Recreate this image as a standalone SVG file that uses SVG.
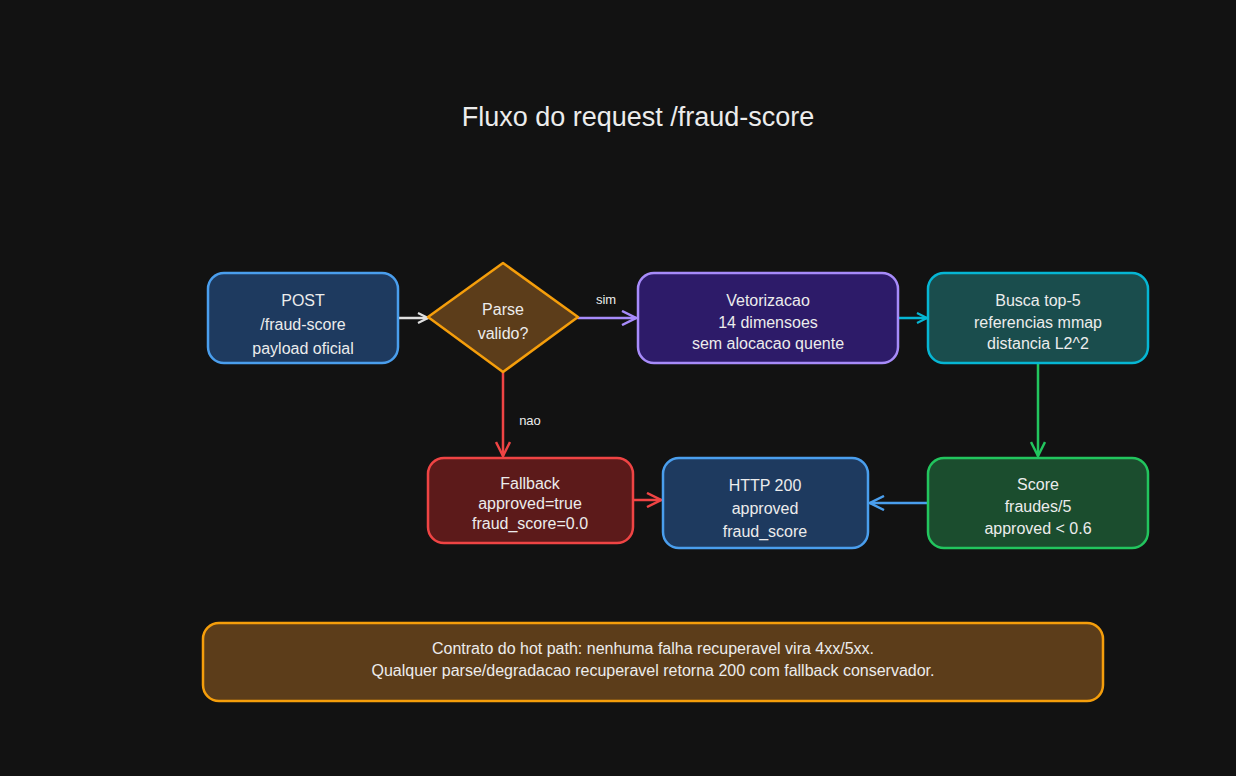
<svg xmlns="http://www.w3.org/2000/svg" width="1236" height="776" viewBox="0 0 1236 776">
<style>
text{font-family:"Liberation Sans",Arial,sans-serif;fill:#ececec;text-anchor:middle}
.t{font-size:16px}
.n{stroke-width:2.5}
.c{fill:none;stroke-width:2.5;stroke-linecap:round}
.l{font-size:13px}
</style>
<defs>
<marker id="aw" viewBox="0 0 12 12" refX="11" refY="6" markerWidth="12" markerHeight="12" markerUnits="userSpaceOnUse" orient="auto"><path d="M1 1L11 6L1 11" fill="none" stroke="#e0e0e0" stroke-width="2.2"/></marker>
<marker id="ap" viewBox="0 0 16 16" refX="15" refY="8" markerWidth="16" markerHeight="16" markerUnits="userSpaceOnUse" orient="auto"><path d="M1 1L15 8L1 15" fill="none" stroke="#a78bfa" stroke-width="2.5"/></marker>
<marker id="ac" viewBox="0 0 12 12" refX="11" refY="6" markerWidth="12" markerHeight="12" markerUnits="userSpaceOnUse" orient="auto"><path d="M1 1L11 6L1 11" fill="none" stroke="#06b6d4" stroke-width="2.2"/></marker>
<marker id="ag" viewBox="0 0 16 16" refX="15" refY="8" markerWidth="16" markerHeight="16" markerUnits="userSpaceOnUse" orient="auto"><path d="M1 1L15 8L1 15" fill="none" stroke="#22c55e" stroke-width="2.5"/></marker>
<marker id="ab" viewBox="0 0 16 16" refX="15" refY="8" markerWidth="16" markerHeight="16" markerUnits="userSpaceOnUse" orient="auto"><path d="M1 1L15 8L1 15" fill="none" stroke="#4a9eed" stroke-width="2.5"/></marker>
<marker id="ar" viewBox="0 0 16 16" refX="15" refY="8" markerWidth="16" markerHeight="16" markerUnits="userSpaceOnUse" orient="auto"><path d="M1 1L15 8L1 15" fill="none" stroke="#ef4444" stroke-width="2.5"/></marker>
</defs>
<rect width="1236" height="776" fill="#121212"/>
<text x="638" y="126" font-size="27">Fluxo do request /fraud-score</text>
<g id="connectors">
<path class="c" d="M398 318H428" stroke="#e0e0e0" marker-end="url(#aw)"/>
<path class="c" d="M578 318H636" stroke="#a78bfa" marker-end="url(#ap)"/>
<text class="l" x="606" y="304">sim</text>
<path class="c" d="M898 318H927" stroke="#06b6d4" marker-end="url(#ac)"/>
<path class="c" d="M1038 363V456" stroke="#22c55e" marker-end="url(#ag)"/>
<path class="c" d="M928 503H870" stroke="#4a9eed" marker-end="url(#ab)"/>
<path class="c" d="M503 372V456" stroke="#ef4444" marker-end="url(#ar)"/>
<text class="l" x="530" y="425">nao</text>
<path class="c" d="M633 500H661" stroke="#ef4444" marker-end="url(#ar)"/>
</g>
<g id="post"><rect class="n" x="208" y="273" width="190" height="90" rx="16" fill="#1e3a5f" stroke="#4a9eed"/>
<text class="t" x="303" y="306">POST</text><text class="t" x="303" y="330">/fraud-score</text><text class="t" x="303" y="354">payload oficial</text></g>
<g id="parse"><path class="n" d="M503 263L578 317L503 372L428 317Z" fill="#5c3d1a" stroke="#f59e0b" stroke-linejoin="round"/>
<text class="t" x="503" y="315" font-size="17">Parse</text><text class="t" x="503" y="339" font-size="17">valido?</text></g>
<g id="vet"><rect class="n" x="638" y="273" width="260" height="90" rx="16" fill="#2d1b69" stroke="#a78bfa"/>
<text class="t" x="768" y="306">Vetorizacao</text><text class="t" x="768" y="328">14 dimensoes</text><text class="t" x="768" y="349">sem alocacao quente</text></g>
<g id="busca"><rect class="n" x="928" y="273" width="220" height="90" rx="16" fill="#1a4d4d" stroke="#06b6d4"/>
<text class="t" x="1038" y="306">Busca top-5</text><text class="t" x="1038" y="328">referencias mmap</text><text class="t" x="1038" y="349">distancia L2^2</text></g>
<g id="score"><rect class="n" x="928" y="458" width="220" height="90" rx="16" fill="#1b4d2e" stroke="#22c55e"/>
<text class="t" x="1038" y="490">Score</text><text class="t" x="1038" y="512">fraudes/5</text><text class="t" x="1038" y="534">approved &lt; 0.6</text></g>
<g id="http"><rect class="n" x="663" y="458" width="205" height="90" rx="16" fill="#1e3a5f" stroke="#4a9eed"/>
<text class="t" x="765" y="491" font-size="17">HTTP 200</text><text class="t" x="765" y="514" font-size="17">approved</text><text class="t" x="765" y="537" font-size="17">fraud_score</text></g>
<g id="fallback"><rect class="n" x="428" y="458" width="205" height="85" rx="16" fill="#5c1a1a" stroke="#ef4444"/>
<text class="t" x="530" y="489">Fallback</text><text class="t" x="530" y="509">approved=true</text><text class="t" x="530" y="529">fraud_score=0.0</text></g>
<g id="contrato"><rect class="n" x="203" y="623" width="900" height="78" rx="16" fill="#5c3d1a" stroke="#f59e0b"/>
<text class="t" x="653" y="654">Contrato do hot path: nenhuma falha recuperavel vira 4xx/5xx.</text>
<text class="t" x="653" y="676">Qualquer parse/degradacao recuperavel retorna 200 com fallback conservador.</text></g>
</svg>
